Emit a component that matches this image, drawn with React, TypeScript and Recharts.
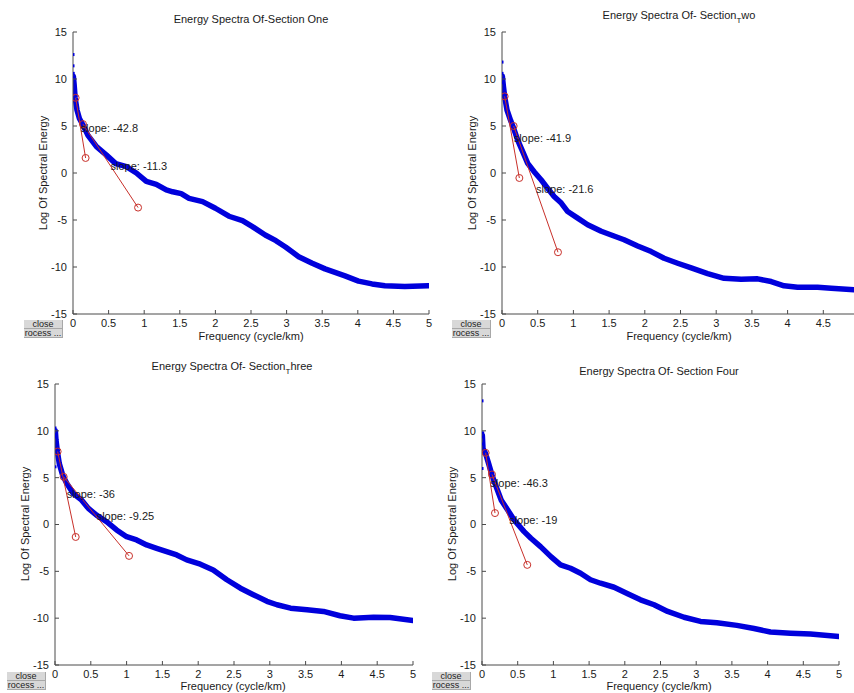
import React from "react";
import { ComposedChart, Line, Scatter, XAxis, YAxis } from "recharts";

// ---------- Data ----------
const xTicksFull = [0, 0.5, 1, 1.5, 2, 2.5, 3, 3.5, 4, 4.5, 5];
const xTicksTwo = [0, 0.5, 1, 1.5, 2, 2.5, 3, 3.5, 4, 4.5];
const yTicks = [-15, -10, -5, 0, 5, 10, 15];

const titles = [
  "Energy Spectra Of-Section One",
  "Energy Spectra Of- Section",
  "Energy Spectra Of- Section",
  "Energy Spectra Of- Section Four",
];
const titleSubs = ["", "T", "T", ""];
const titleTails = ["", "wo", "hree", ""];
const xLabel = "Frequency (cycle/km)";
const yLabel = "Log Of Spectral Energy";
const buttonLabels = ["close", "rocess ..."];

// Section One
const s1Freq = [0.005, 0.015, 0.03, 0.056, 0.09, 0.14, 0.21, 0.33, 0.47, 0.6, 0.75, 0.89, 1.03, 1.17, 1.31, 1.4, 1.52, 1.63, 1.82, 2.0, 2.19, 2.38, 2.52, 2.7, 2.85, 2.99, 3.17, 3.36, 3.54, 3.82, 4.01, 4.2, 4.38, 4.66, 4.99];
const s1Energy = [10.3, 9.5, 8.0, 6.7, 5.8, 5.1, 4.0, 2.8, 1.9, 1.0, 0.67, 0.0, -0.9, -1.2, -1.8, -2.0, -2.2, -2.7, -3.05, -3.75, -4.6, -5.07, -5.7, -6.6, -7.2, -7.9, -8.9, -9.6, -10.2, -10.95, -11.5, -11.8, -12.0, -12.08, -12.0];
const s1HeadFreq = [0, 0, 0.003, 0.006];
const s1HeadEnergy = [12.6, 11.4, 10.6, 10.2];
const s1FitFreq = [[0.037, 0.177], [0.14, 0.914]];
const s1FitEnergy = [[8.0, 1.6], [5.2, -3.68]];
const s1Slopes = ["slope: -42.8", "slope: -11.3"];
const s1SlopeFreq = [0.107, 0.527];
const s1SlopeEnergy = [4.75, 0.74];

// Section Two
const s2Freq = [0.005, 0.02, 0.037, 0.07, 0.12, 0.163, 0.22, 0.29, 0.36, 0.45, 0.55, 0.64, 0.73, 0.83, 0.92, 1.06, 1.2, 1.39, 1.53, 1.71, 1.9, 2.09, 2.27, 2.46, 2.65, 2.88, 3.11, 3.35, 3.58, 3.77, 3.95, 4.14, 4.42, 4.61, 4.93];
const s2Energy = [10.3, 9.2, 8.15, 6.7, 5.6, 4.75, 3.5, 2.27, 1.03, 0.14, -0.74, -1.63, -2.5, -3.2, -4.1, -4.8, -5.5, -6.2, -6.6, -7.1, -7.76, -8.36, -9.07, -9.6, -10.1, -10.7, -11.2, -11.3, -11.26, -11.55, -12.0, -12.15, -12.15, -12.26, -12.43];
const s2HeadFreq = [0, 0, 0.003, 0.006];
const s2HeadEnergy = [11.8, 10.6, 10.0, 9.6];
const s2FitFreq = [[0.037, 0.243], [0.163, 0.784]];
const s2FitEnergy = [[8.15, -0.53], [5.0, -8.43]];
const s2Slopes = ["slope: -41.9", "slope: -21.6"];
const s2SlopeFreq = [0.163, 0.476];
const s2SlopeEnergy = [3.75, -1.77];

// Section Three
const s3Freq = [0.005, 0.014, 0.033, 0.06, 0.107, 0.163, 0.256, 0.373, 0.466, 0.58, 0.72, 0.86, 1.0, 1.14, 1.28, 1.42, 1.56, 1.7, 1.84, 2.03, 2.21, 2.4, 2.59, 2.77, 2.96, 3.1, 3.29, 3.52, 3.75, 3.98, 4.17, 4.45, 4.68, 5.0];
const s3Energy = [10.0, 9.0, 7.8, 6.5, 5.27, 4.4, 3.3, 2.6, 1.72, 1.0, 0.3, -0.58, -1.3, -1.65, -2.18, -2.54, -2.9, -3.25, -3.78, -4.24, -4.85, -5.9, -6.8, -7.5, -8.2, -8.57, -8.93, -9.1, -9.28, -9.74, -10.0, -9.9, -9.92, -10.24];
const s3HeadFreq = [0, 0, 0.003, 0];
const s3HeadEnergy = [10.3, 9.6, 9.35, 6.16];
const s3FitFreq = [[0.037, 0.289], [0.121, 1.034]];
const s3FitEnergy = [[7.79, -1.33], [5.09, -3.35]];
const s3Slopes = ["slope: -36", "slope: -9.25"];
const s3SlopeFreq = [0.163, 0.582];
const s3SlopeEnergy = [3.25, 0.87];

// Section Four
const s4Freq = [0.005, 0.014, 0.05, 0.093, 0.14, 0.2, 0.27, 0.36, 0.45, 0.59, 0.685, 0.82, 0.965, 1.1, 1.24, 1.38, 1.52, 1.66, 1.85, 2.04, 2.22, 2.41, 2.6, 2.83, 3.06, 3.29, 3.57, 3.81, 4.04, 4.32, 4.6, 5.0];
const s4Energy = [9.5, 8.1, 7.58, 6.5, 5.27, 4.0, 2.6, 1.54, 0.48, -0.76, -1.47, -2.36, -3.43, -4.3, -4.67, -5.2, -5.9, -6.27, -6.7, -7.4, -8.04, -8.57, -9.28, -9.9, -10.35, -10.5, -10.77, -11.1, -11.48, -11.6, -11.7, -11.95];
const s4HeadFreq = [0, 0.01, 0.015, 0.01, 0];
const s4HeadEnergy = [13.2, 9.78, 9.35, 8.6, 5.98];
const s4FitFreq = [[0.051, 0.182], [0.14, 0.634]];
const s4FitEnergy = [[7.65, 1.22], [5.34, -4.31]];
const s4Slopes = ["slope: -46.3", "slope: -19"];
const s4SlopeFreq = [0.117, 0.38];
const s4SlopeEnergy = [4.45, 0.51];

// ---------- Styles ----------
const FONT = '"Liberation Sans", Arial, Helvetica, sans-serif';
const BLUE = "#0000dc";
const RED = "#c8302a";
const AXIS = "#4a4a4a";
const TEXT = "#1a1a1a";

const zip = (xs: number[], ys: number[]) => xs.map((x, i) => ({ x, y: ys[i] }));

const YTick = (props: any) => {
  const { x, y, payload } = props;
  const ax = x + 6;
  return (
    <g>
      <line x1={ax} x2={ax + 4} y1={y} y2={y} stroke={AXIS} strokeWidth={1} />
      <text x={x} y={y} dy="0.35em" textAnchor="end" fontSize={11} fill={TEXT} fontFamily={FONT}>
        {payload.value}
      </text>
    </g>
  );
};

const XTick = (props: any) => {
  const { x, y, payload } = props;
  const ay = y - 5;
  return (
    <g>
      <line x1={x} x2={x} y1={ay} y2={ay - 4} stroke={AXIS} strokeWidth={1} />
      <text x={x} y={y} dy="0.71em" textAnchor="middle" fontSize={11} fill={TEXT} fontFamily={FONT}>
        {payload.value}
      </text>
    </g>
  );
};

const SlopeText = (props: any) => {
  const { cx, cy, payload } = props;
  return (
    <text x={cx} y={cy} dy="0.35em" fontSize={11} fill={TEXT} fontFamily={FONT}>
      {payload.label}
    </text>
  );
};

const HeadDot = (props: any) => {
  const { cx, cy } = props;
  return <rect x={cx - 1.5} y={cy - 1.5} width={3} height={3} fill={BLUE} />;
};

type PanelProps = {
  left: number; top: number; width: number; height: number;
  margin: { top: number; right: number; bottom: number; left: number };
  xMax: number; xTicks: number[];
  freq: number[]; energy: number[];
  headFreq: number[]; headEnergy: number[];
  fitFreq: number[][]; fitEnergy: number[][];
  slopes: string[]; slopeFreq: number[]; slopeEnergy: number[];
};

const Panel = (p: PanelProps) => {
  const body = zip(p.freq, p.energy);
  const head = zip(p.headFreq, p.headEnergy);
  const fits = p.fitFreq.map((fx, i) => zip(fx, p.fitEnergy[i]));
  const labels = p.slopes.map((s, i) => ({ x: p.slopeFreq[i], y: p.slopeEnergy[i], label: s }));
  return (
    <div style={{ position: "absolute", left: p.left, top: p.top }}>
      <ComposedChart width={p.width} height={p.height} margin={p.margin}>
        <XAxis
          type="number" dataKey="x" domain={[0, p.xMax]} ticks={p.xTicks}
          allowDataOverflow height={20} tickSize={0} tickMargin={5}
          axisLine={{ stroke: AXIS }} tickLine={false} tick={<XTick />}
          interval={0}
        />
        <YAxis
          type="number" dataKey="y" domain={[-15, 15]} ticks={yTicks}
          allowDataOverflow width={40} tickSize={0} tickMargin={6}
          axisLine={{ stroke: AXIS }} tickLine={false} tick={<YTick />}
          interval={0}
        />
        <Line
          data={body} dataKey="y" type="linear" stroke={BLUE} strokeWidth={5.5}
          strokeLinejoin="round" strokeLinecap="round" dot={false} isAnimationActive={false}
        />
        <Scatter data={head} dataKey="y" shape={<HeadDot />} isAnimationActive={false} />
        {fits.map((d, i) => (
          <Line
            key={i} data={d} dataKey="y" type="linear" stroke={RED} strokeWidth={1}
            dot={{ r: 3.5, fill: "none", stroke: RED, strokeWidth: 1 }}
            isAnimationActive={false}
          />
        ))}
        <Scatter data={labels} dataKey="y" shape={<SlopeText />} isAnimationActive={false} />
      </ComposedChart>
    </div>
  );
};

const Title = ({ cx, cy, i }: { cx: number; cy: number; i: number }) => (
  <div
    style={{
      position: "absolute", left: cx - 150, top: cy - 7, width: 300, textAlign: "center",
      fontFamily: FONT, fontSize: 11, color: TEXT, lineHeight: "14px", whiteSpace: "nowrap",
    }}
  >
    {titles[i]}
    {titleSubs[i] ? (
      <span style={{ fontSize: 8, position: "relative", top: 4 }}>{titleSubs[i]}</span>
    ) : null}
    {titleTails[i]}
  </div>
);

const XLab = ({ cx, cy }: { cx: number; cy: number }) => (
  <div
    style={{
      position: "absolute", left: cx - 100, top: cy - 7, width: 200, textAlign: "center",
      fontFamily: FONT, fontSize: 11, color: TEXT, lineHeight: "14px", whiteSpace: "nowrap",
    }}
  >
    {xLabel}
  </div>
);

const YLab = ({ cx, cy }: { cx: number; cy: number }) => (
  <div
    style={{
      position: "absolute", left: cx - 100, top: cy - 7, width: 200, textAlign: "center",
      fontFamily: FONT, fontSize: 11, color: TEXT, lineHeight: "14px", whiteSpace: "nowrap",
      transform: "rotate(-90deg)",
    }}
  >
    {yLabel}
  </div>
);

const btn: React.CSSProperties = {
  width: 39, height: 9, background: "#d8d8d8", borderBottom: "1px solid #a8a8a8",
  borderRight: "1px solid #a8a8a8", fontFamily: FONT, fontSize: 9, lineHeight: "9px",
  color: "#222", boxSizing: "border-box", whiteSpace: "nowrap", textAlign: "center",
};

const Buttons = ({ x, y }: { x: number; y: number }) => (
  <div style={{ position: "absolute", left: x, top: y }}>
    <div style={btn}>{buttonLabels[0]}</div>
    <div style={btn}>{buttonLabels[1]}</div>
  </div>
);

export default function App() {
  return (
    <div style={{ position: "absolute", left: 0, top: 0, width: 854, height: 693, background: "#fff", overflow: "hidden" }}>
      <Panel
        left={0} top={0} width={440} height={340}
        margin={{ top: 32, right: 11, bottom: 6, left: 33 }}
        xMax={5} xTicks={xTicksFull}
        freq={s1Freq} energy={s1Energy} headFreq={s1HeadFreq} headEnergy={s1HeadEnergy}
        fitFreq={s1FitFreq} fitEnergy={s1FitEnergy}
        slopes={s1Slopes} slopeFreq={s1SlopeFreq} slopeEnergy={s1SlopeEnergy}
      />
      <Panel
        left={424} top={0} width={430} height={340}
        margin={{ top: 32, right: 0, bottom: 6, left: 38 }}
        xMax={4.93} xTicks={xTicksTwo}
        freq={s2Freq} energy={s2Energy} headFreq={s2HeadFreq} headEnergy={s2HeadEnergy}
        fitFreq={s2FitFreq} fitEnergy={s2FitEnergy}
        slopes={s2Slopes} slopeFreq={s2SlopeFreq} slopeEnergy={s2SlopeEnergy}
      />
      <Panel
        left={0} top={340} width={430} height={353}
        margin={{ top: 44, right: 17, bottom: 8, left: 15 }}
        xMax={5} xTicks={xTicksFull}
        freq={s3Freq} energy={s3Energy} headFreq={s3HeadFreq} headEnergy={s3HeadEnergy}
        fitFreq={s3FitFreq} fitEnergy={s3FitEnergy}
        slopes={s3Slopes} slopeFreq={s3SlopeFreq} slopeEnergy={s3SlopeEnergy}
      />
      <Panel
        left={424} top={340} width={430} height={353}
        margin={{ top: 44, right: 15, bottom: 8, left: 18 }}
        xMax={5} xTicks={xTicksFull}
        freq={s4Freq} energy={s4Energy} headFreq={s4HeadFreq} headEnergy={s4HeadEnergy}
        fitFreq={s4FitFreq} fitEnergy={s4FitEnergy}
        slopes={s4Slopes} slopeFreq={s4SlopeFreq} slopeEnergy={s4SlopeEnergy}
      />

      <Title cx={251} cy={19} i={0} />
      <Title cx={679} cy={15} i={1} />
      <Title cx={232} cy={366} i={2} />
      <Title cx={659} cy={371} i={3} />

      <XLab cx={251} cy={336} />
      <XLab cx={679} cy={336} />
      <XLab cx={233} cy={686} />
      <XLab cx={659} cy={686} />

      <YLab cx={43} cy={173} />
      <YLab cx={472} cy={173} />
      <YLab cx={25} cy={524} />
      <YLab cx={452} cy={524} />

      <Buttons x={24} y={320} />
      <Buttons x={452} y={320} />
      <Buttons x={7} y={672} />
      <Buttons x={432} y={672} />
    </div>
  );
}
